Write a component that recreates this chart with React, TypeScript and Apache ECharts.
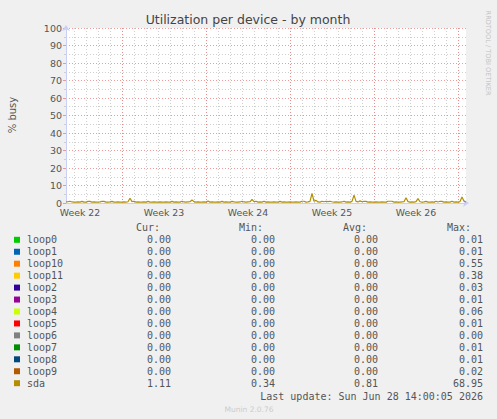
import { useEffect, useRef } from "react";
import * as echarts from "echarts";

// 4-hour samples, 2026-05-26 08:00 .. 2026-06-28 16:00 (UTC)
const START_UTC = Date.UTC(2026, 4, 26, 8);
const STEP_HOURS = 4;

const SDA_BUSY = [
  0.6, 0.7, 1.0, 0.6, 0.5, 0.5, 0.6, 0.5, 0.9, 0.5,
  0.5, 0.9, 0.9, 0.5, 0.6, 0.5, 0.5, 0.6, 0.9, 0.9,
  0.5, 0.5, 0.6, 0.9, 0.5, 0.5, 0.6, 0.5, 0.5, 0.6,
  0.5, 0.7, 2.7, 0.8, 1.0, 0.5, 0.6, 0.5, 0.5, 0.6,
  0.5, 0.9, 0.5, 0.5, 0.6, 0.5, 0.5, 0.6, 0.5, 0.5,
  0.6, 0.5, 0.5, 0.9, 0.5, 0.6, 0.5, 0.5, 1.0, 0.6,
  0.5, 0.6, 0.7, 1.7, 0.8, 0.5, 0.6, 0.5, 0.5, 0.6,
  0.5, 1.2, 0.5, 0.6, 0.5, 0.5, 0.6, 0.5, 0.9, 0.5,
  0.6, 0.5, 0.5, 0.9, 0.6, 0.5, 0.5, 0.6, 1.0, 0.6,
  0.5, 0.6, 0.7, 2.0, 0.8, 1.0, 0.5, 0.6, 0.5, 1.0,
  0.5, 0.6, 0.5, 0.5, 0.6, 0.5, 0.5, 0.9, 0.5, 0.6,
  0.5, 0.5, 0.6, 0.5, 0.5, 0.6, 0.5, 0.5, 1.0, 1.0,
  0.5, 0.6, 0.9, 5.5, 1.0, 1.5, 0.6, 0.5, 1.0, 0.7,
  1.0, 0.8, 1.0, 0.7, 0.5, 0.6, 0.5, 0.5, 0.6, 1.0,
  0.5, 0.6, 0.5, 0.9, 4.5, 0.9, 0.6, 1.2, 0.7, 1.0,
  0.9, 0.5, 0.6, 0.5, 0.5, 0.6, 0.5, 0.5, 0.6, 0.5,
  0.5, 1.0, 1.0, 1.0, 0.5, 0.6, 0.5, 0.5, 0.6, 0.7,
  3.0, 0.8, 0.5, 0.6, 0.5, 0.8, 2.5, 0.7, 0.5, 0.6,
  0.9, 0.5, 0.5, 0.6, 0.5, 1.0, 0.6, 1.0, 0.9, 0.5,
  0.6, 0.5, 0.5, 1.0, 0.5, 0.6, 0.5, 0.8, 3.4, 1.0,
  0.6,
];

const pad = (n: number) => String(n).padStart(2, "0");
const CATEGORIES = SDA_BUSY.map((_, i) => {
  const d = new Date(START_UTC + i * STEP_HOURS * 3600000);
  return `${d.getUTCFullYear()}-${pad(d.getUTCMonth() + 1)}-${pad(d.getUTCDate())} ${pad(d.getUTCHours())}:00`;
});

const WEEK_STARTS = [
  "2026-05-31 00:00",
  "2026-06-07 00:00",
  "2026-06-14 00:00",
  "2026-06-21 00:00",
  "2026-06-28 00:00",
];
const WEEK_LABEL_AT = [
  "2026-05-27 12:00",
  "2026-06-03 12:00",
  "2026-06-10 12:00",
  "2026-06-17 12:00",
  "2026-06-24 12:00",
];
const WEEK_LABELS = ["Week 22", "Week 23", "Week 24", "Week 25", "Week 26"];

const DEVICES = [
  "loop0", "loop1", "loop10", "loop11", "loop2", "loop3", "loop4",
  "loop5", "loop6", "loop7", "loop8", "loop9", "sda",
];
const DEVICE_COLORS = [
  "#00CC00", "#0066B3", "#FF8000", "#FFCC00", "#330099", "#990099", "#CCFF00",
  "#FF0000", "#808080", "#008F00", "#00487D", "#B35A00", "#B38F00",
];
const CUR = [0, 0, 0, 0, 0, 0, 0, 0, 0, 0, 0, 0, 1.11];
const MIN = [0, 0, 0, 0, 0, 0, 0, 0, 0, 0, 0, 0, 0.34];
const AVG = [0, 0, 0, 0, 0, 0, 0, 0, 0, 0, 0, 0, 0.81];
const MAX = [0.01, 0.01, 0.55, 0.38, 0.03, 0.01, 0.06, 0.01, 0.0, 0.01, 0.01, 0.02, 68.95];

const MONO = "'DejaVu Sans Mono', monospace";
const SANS = "'DejaVu Sans', sans-serif";
const TEXT = "#555";
const RED_GRID = "rgba(235,120,120,0.75)";
const GRAY_GRID = "#cfcfcf";
const AXIS = "#c9cff5";

const App = () => {
  const ref = useRef<HTMLDivElement | null>(null);

  useEffect(() => {
    if (!ref.current) return;
    const chart = echarts.init(ref.current, undefined, { renderer: "svg" });

    const rowY = (i: number) => 239.8 + i * 11.95;
    const legend: any[] = [];
    legend.push(
      { type: "text", style: { text: "Cur:", x: 136, y: 227, fill: TEXT, fontSize: 10, fontFamily: MONO, textVerticalAlign: "middle" } },
      { type: "text", style: { text: "Min:", x: 239, y: 227, fill: TEXT, fontSize: 10, fontFamily: MONO, textVerticalAlign: "middle" } },
      { type: "text", style: { text: "Avg:", x: 343, y: 227, fill: TEXT, fontSize: 10, fontFamily: MONO, textVerticalAlign: "middle" } },
      { type: "text", style: { text: "Max:", x: 447, y: 227, fill: TEXT, fontSize: 10, fontFamily: MONO, textVerticalAlign: "middle" } },
    );
    DEVICES.forEach((name, i) => {
      const y = rowY(i);
      legend.push({ type: "rect", shape: { x: 14, y: y - 3, width: 6, height: 6 }, style: { fill: DEVICE_COLORS[i] } });
      legend.push({ type: "text", style: { text: name, x: 27, y, fill: TEXT, fontSize: 10, fontFamily: MONO, textVerticalAlign: "middle" } });
      [
        [CUR[i], 171],
        [MIN[i], 275],
        [AVG[i], 378],
        [MAX[i], 483],
      ].forEach(([v, x]) => {
        legend.push({
          type: "text",
          style: { text: v.toFixed(2), x, y, fill: TEXT, fontSize: 10, fontFamily: MONO, textAlign: "right", textVerticalAlign: "middle" },
        });
      });
    });

    chart.setOption({
      animation: false,
      backgroundColor: "#F0F0F0",
      grid: {
        left: 66,
        top: 28,
        width: 400,
        height: 175,
        show: true,
        backgroundColor: "#ffffff",
        borderWidth: 0,
      },
      xAxis: [
        {
          type: "category",
          data: CATEGORIES,
          boundaryGap: false,
          axisLine: {
            lineStyle: { color: AXIS, width: 1 },
            symbol: ["none", "arrow"],
            symbolSize: [6, 6],
            symbolOffset: [0, 3],
          },
          axisTick: { show: false },
          axisLabel: {
            interval: (_: number, v: string) => WEEK_LABEL_AT.includes(v),
            formatter: (v: string) => WEEK_LABELS[WEEK_LABEL_AT.indexOf(v)] ?? "",
            color: TEXT,
            fontSize: 9.4,
            fontFamily: SANS,
            margin: 5,
          },
          splitLine: {
            show: true,
            interval: (_: number, v: string) => v.endsWith(" 00:00"),
            lineStyle: { color: GRAY_GRID, type: [1, 2], width: 1 },
          },
        },
        {
          type: "category",
          data: CATEGORIES,
          boundaryGap: false,
          position: "top",
          axisLine: { show: false },
          axisTick: { show: false },
          axisLabel: { show: false },
          splitLine: {
            show: true,
            interval: (_: number, v: string) => WEEK_STARTS.includes(v),
            lineStyle: { color: RED_GRID, type: [1, 2], width: 1 },
          },
        },
      ],
      yAxis: {
        type: "value",
        min: 0,
        max: 100,
        interval: 10,
        axisLine: {
          show: true,
          lineStyle: { color: AXIS, width: 1 },
          symbol: ["none", "arrow"],
          symbolSize: [6, 6],
          symbolOffset: [0, 3],
        },
        axisTick: { show: true, length: 3, lineStyle: { color: RED_GRID } },
        minorTick: { show: true, splitNumber: 2, length: 2, lineStyle: { color: GRAY_GRID } },
        axisLabel: { color: TEXT, fontSize: 9.5, fontFamily: SANS, margin: 4 },
        splitLine: { show: true, lineStyle: { color: RED_GRID, type: [1, 2], width: 1 } },
        minorSplitLine: { show: true, lineStyle: { color: GRAY_GRID, type: [1, 2], width: 1 } },
      },
      series: [
        {
          name: "sda",
          type: "line",
          xAxisIndex: 0,
          data: SDA_BUSY,
          showSymbol: false,
          symbol: "none",
          lineStyle: { color: DEVICE_COLORS[12], width: 1.2 },
          itemStyle: { color: DEVICE_COLORS[12] },
          z: 5,
        },
      ],
      graphic: [
        {
          type: "text",
          style: {
            text: "Utilization per device - by month",
            x: 248,
            y: 19,
            fill: "#444",
            fontSize: 12.5,
            fontFamily: SANS,
            textAlign: "center",
            textVerticalAlign: "middle",
          },
        },
        {
          type: "text",
          x: 12,
          y: 115,
          rotation: Math.PI / 2,
          style: {
            text: "% busy",
            x: 0,
            y: 0,
            fill: TEXT,
            fontSize: 10,
            fontFamily: SANS,
            textAlign: "center",
            textVerticalAlign: "middle",
          },
        },
        {
          type: "text",
          x: 488,
          y: 53,
          rotation: -Math.PI / 2,
          style: {
            text: "RRDTOOL / TOBI OETIKER",
            x: 0,
            y: 0,
            fill: "#c4c4c4",
            fontSize: 6.6,
            fontFamily: SANS,
            textAlign: "center",
            textVerticalAlign: "middle",
          },
        },
        ...legend,
        {
          type: "text",
          style: {
            text: "Last update: Sun Jun 28 14:00:05 2026",
            x: 483,
            y: 396,
            fill: TEXT,
            fontSize: 10,
            fontFamily: MONO,
            textAlign: "right",
            textVerticalAlign: "middle",
          },
        },
        {
          type: "text",
          style: {
            text: "Munin 2.0.76",
            x: 249,
            y: 409,
            fill: "#cccccc",
            fontSize: 7.5,
            fontFamily: SANS,
            textAlign: "center",
            textVerticalAlign: "middle",
          },
        },
      ],
    });

    return () => chart.dispose();
  }, []);

  return (
    <div
      ref={ref}
      style={{ position: "fixed", left: 0, top: 0, width: 497, height: 419 }}
    />
  );
};

export default App;
